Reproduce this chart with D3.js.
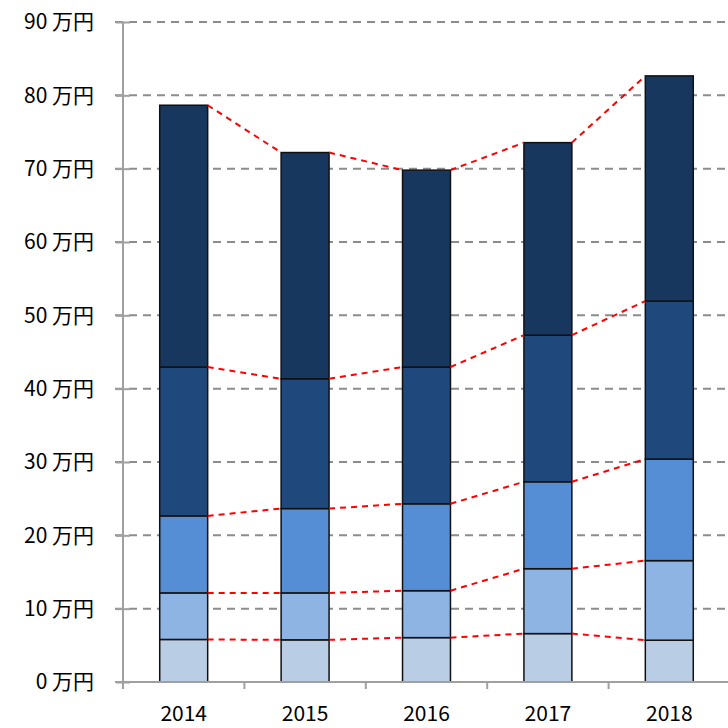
<!DOCTYPE html>
<html>
<head>
<meta charset="utf-8">
<script src="https://cdn.jsdelivr.net/npm/d3@7"></script>
<style>
  body { margin: 0; background: #fff; }
  text { font-family: "Noto Sans CJK JP", "Noto Sans", sans-serif; fill: #000; }
</style>
</head>
<body>
<div id="chart"></div>
<script>
var years = ["2014", "2015", "2016", "2017", "2018"];
var seriesKeys = ["s1", "s2", "s3", "s4", "s5"];
var s1 = [5.8, 5.75, 6.05, 6.6, 5.7];
var s2 = [6.35, 6.4, 6.4, 8.85, 10.85];
var s3 = [10.5, 11.5, 11.85, 11.85, 13.85];
var s4 = [20.3, 17.7, 18.65, 20.0, 21.55];
var s5 = [35.7, 30.85, 26.85, 26.25, 30.7];
var yTicks = [0, 10, 20, 30, 40, 50, 60, 70, 80, 90];
var colors = ["#b9cde5", "#8eb4e3", "#558ed5", "#1f497d", "#17375e"];

var svgWidth = 728;
var svgHeight = 728;
var margin = { top: 22, right: -2, bottom: 46, left: 123 };
var width = svgWidth - margin.left - margin.right;
var height = svgHeight - margin.top - margin.bottom;

var data = years.map(function(y, i) {
  return { year: y, s1: s1[i], s2: s2[i], s3: s3[i], s4: s4[i], s5: s5[i] };
});

var stacked = d3.stack().keys(seriesKeys)(data);

var svg = d3.select("#chart").append("svg")
  .attr("width", svgWidth)
  .attr("height", svgHeight);

var chartGroup = svg.append("g")
  .attr("transform", `translate(${margin.left}, ${margin.top})`);

var x = d3.scaleBand().domain(years).range([0, width]).paddingInner(0.605).paddingOuter(0.3025);
var xOuter = d3.scaleBand().domain(years).range([0, width]);
var y = d3.scaleLinear().domain([0, 90]).range([height, 0]);

// gridlines
chartGroup.append("g")
  .selectAll("line")
  .data(yTicks.filter(d => d > 0))
  .enter()
  .append("line")
  .attr("x1", -8)
  .attr("x2", width)
  .attr("y1", d => y(d))
  .attr("y2", d => y(d))
  .attr("stroke", "#8c8c8c")
  .attr("stroke-width", 2)
  .attr("stroke-dasharray", "8,6");

// y axis
var leftAxis = d3.axisLeft(y)
  .tickValues(yTicks)
  .tickSize(7)
  .tickPadding(22)
  .tickFormat(d => d + " 万円");

var yAxis = chartGroup.append("g").call(leftAxis);
yAxis.select(".domain").attr("stroke", "#a0a0a0").attr("stroke-width", 2)
  .attr("d", `M0,${height + 7}V0`);
yAxis.selectAll(".tick line").attr("stroke", "#a0a0a0").attr("stroke-width", 2)
  .attr("x1", 7);
yAxis.selectAll(".tick text").style("font-size", "21px");

// bars
var layers = chartGroup.append("g")
  .selectAll("g")
  .data(stacked)
  .enter()
  .append("g")
  .attr("fill", (d, i) => colors[i]);

layers.selectAll("rect")
  .data(d => d)
  .enter()
  .append("rect")
  .attr("x", d => x(d.data.year))
  .attr("y", d => y(d[1]))
  .attr("width", x.bandwidth())
  .attr("height", d => y(d[0]) - y(d[1]))
  .attr("stroke", "#111")
  .attr("stroke-width", 1.5);

// red connector lines
stacked.forEach(function(layer) {
  for (var i = 0; i < layer.length - 1; i++) {
    chartGroup.append("line")
      .attr("x1", x(years[i]) + x.bandwidth())
      .attr("y1", y(layer[i][1]))
      .attr("x2", x(years[i + 1]))
      .attr("y2", y(layer[i + 1][1]))
      .attr("stroke", "#ff0000")
      .attr("stroke-width", 2)
      .attr("stroke-dasharray", "6,5");
  }
});

// x axis
var xAxisG = chartGroup.append("g").attr("transform", `translate(0, ${height})`);
xAxisG.append("line")
  .attr("x1", -8).attr("x2", width)
  .attr("y1", 0).attr("y2", 0)
  .attr("stroke", "#a0a0a0").attr("stroke-width", 2);
xAxisG.selectAll(".xtick")
  .data(years)
  .enter()
  .append("line")
  .attr("x1", d => xOuter(d))
  .attr("x2", d => xOuter(d))
  .attr("y1", 0).attr("y2", 7)
  .attr("stroke", "#a0a0a0").attr("stroke-width", 2);
xAxisG.selectAll(".xlabel")
  .data(years)
  .enter()
  .append("text")
  .attr("x", d => x(d) + x.bandwidth() / 2)
  .attr("y", 39)
  .attr("text-anchor", "middle")
  .style("font-size", "21px")
  .text(d => d);
</script>
</body>
</html>
